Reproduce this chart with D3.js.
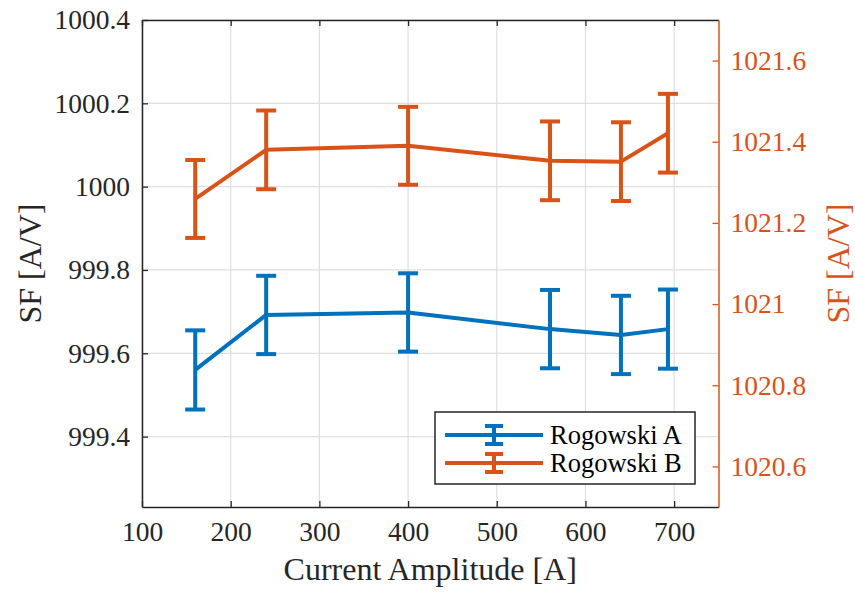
<!DOCTYPE html>
<html>
<head>
<meta charset="utf-8">
<script src="https://cdn.jsdelivr.net/npm/d3@7/dist/d3.min.js"></script>
<style>
  html, body { margin: 0; padding: 0; background: #fff; }
  svg, svg text { font-family: "Liberation Serif", "Times New Roman", serif; }
  svg { display: block; }
</style>
</head>
<body>
<svg id="chart" width="855" height="592"></svg>
<script>
// Measured scale factors of two Rogowski coils versus current amplitude
const currents = [160, 240, 400, 560, 640, 693];
const sfA = [999.560, 999.692, 999.698, 999.658, 999.644, 999.658];
const errA = [0.095, 0.094, 0.094, 0.094, 0.094, 0.095];
const sfB = [1021.259, 1021.380, 1021.390, 1021.353, 1021.351, 1021.421];
const errB = [0.096, 0.097, 0.096, 0.097, 0.097, 0.097];

const xTicks = [100, 200, 300, 400, 500, 600, 700];
const leftTicks = [999.4, 999.6, 999.8, 1000, 1000.2, 1000.4];
const rightTicks = [1020.6, 1020.8, 1021, 1021.2, 1021.4, 1021.6];
const seriesNames = ["Rogowski A", "Rogowski B"];

const blue = "#0072BD", orange = "#D95319", ink = "#262626", gridCol = "#dfdfdf";
const serif = "Liberation Serif, Times New Roman, serif";
const lw = 4;

const svg = d3.select("#chart");
const L = 142, R = 718.5, T = 20, B = 507;

const x = d3.scaleLinear().domain([100, 750]).range([L, R]);
const yL = d3.scaleLinear().domain([999.231, 1000.4]).range([B, T]);
const yR = d3.scaleLinear().domain([1020.5, 1021.7]).range([B, T]);

const fmt = d => String(+d.toFixed(1));

// grid
const grid = svg.append("g");
grid.selectAll("line.gx").data(xTicks).join("line")
  .attr("x1", d => x(d)).attr("x2", d => x(d)).attr("y1", T).attr("y2", B)
  .attr("stroke", gridCol).attr("stroke-width", 1.2);
grid.selectAll("line.gy").data(leftTicks).join("line")
  .attr("y1", d => yL(d)).attr("y2", d => yL(d)).attr("x1", L).attr("x2", R)
  .attr("stroke", gridCol).attr("stroke-width", 1.2);

// series with error bars
function drawSeries(vals, errs, yS, color) {
  const g = svg.append("g");
  const pts = currents.map((c, i) => ({ x: c, y: vals[i], e: errs[i] }));
  g.append("path").datum(pts)
    .attr("d", d3.line().x(d => x(d.x)).y(d => yS(d.y)))
    .attr("fill", "none").attr("stroke", color).attr("stroke-width", lw)
    .attr("stroke-linejoin", "round");
  const cap = 10;
  pts.forEach(p => {
    const cx = x(p.x), y0 = yS(p.y - p.e), y1 = yS(p.y + p.e);
    g.append("line").attr("x1", cx).attr("x2", cx).attr("y1", y0).attr("y2", y1)
      .attr("stroke", color).attr("stroke-width", lw);
    [y0, y1].forEach(yy => g.append("line")
      .attr("x1", cx - cap).attr("x2", cx + cap).attr("y1", yy).attr("y2", yy)
      .attr("stroke", color).attr("stroke-width", lw));
  });
}
drawSeries(sfA, errA, yL, blue);
drawSeries(sfB, errB, yR, orange);

// axes
const tickFont = 27.5;
const axB = svg.append("g").attr("transform", `translate(0,${B})`)
  .call(d3.axisBottom(x).tickValues(xTicks).tickSizeInner(-6).tickSizeOuter(0).tickPadding(14));
const axTop = svg.append("g").attr("transform", `translate(0,${T})`)
  .call(d3.axisTop(x).tickValues(xTicks).tickSizeInner(-6).tickSizeOuter(0).tickFormat(""));
const axL = svg.append("g").attr("transform", `translate(${L},0)`)
  .call(d3.axisLeft(yL).tickValues(leftTicks).tickFormat(fmt).tickSizeInner(-6).tickSizeOuter(0).tickPadding(12));
const axR = svg.append("g").attr("transform", `translate(${R},0)`)
  .call(d3.axisRight(yR).tickValues(rightTicks).tickFormat(fmt).tickSizeInner(-6).tickSizeOuter(0).tickPadding(12));

[axB, axTop, axL, axR].forEach(a => a.attr("font-family", serif).attr("font-size", tickFont));
[axB, axTop, axL].forEach(a => {
  a.select(".domain").attr("stroke", ink).attr("stroke-width", 1.5);
  a.selectAll(".tick line").attr("stroke", ink).attr("stroke-width", 1.3);
  a.selectAll(".tick text").attr("fill", ink);
});
axR.select(".domain").attr("stroke", orange).attr("stroke-width", 1.5);
axR.selectAll(".tick line").attr("stroke", orange).attr("stroke-width", 1.3);
axR.selectAll(".tick text").attr("fill", orange);

// axis titles
svg.append("text").attr("x", (L + R) / 2).attr("y", 580).attr("text-anchor", "middle")
  .attr("font-family", serif).attr("font-size", 32)
  .attr("fill", ink).text("Current Amplitude [A]");
svg.append("text").attr("transform", `translate(41,${(T + B) / 2}) rotate(-90)`)
  .attr("font-family", serif).attr("font-size", 32)
  .attr("text-anchor", "middle").attr("fill", ink).text("SF [A/V]");
svg.append("text").attr("transform", `translate(849,${(T + B) / 2}) rotate(-90)`)
  .attr("font-family", serif).attr("font-size", 32)
  .attr("text-anchor", "middle").attr("fill", orange).text("SF [A/V]");

// legend
const lg = svg.append("g").attr("transform", "translate(435,412)");
lg.append("rect").attr("width", 260).attr("height", 72)
  .attr("fill", "#fff").attr("stroke", ink).attr("stroke-width", 1.5);
[blue, orange].forEach((c, i) => {
  const cy = 23 + i * 28;
  const row = lg.append("g");
  row.append("line").attr("x1", 10).attr("x2", 108).attr("y1", cy).attr("y2", cy)
    .attr("stroke", c).attr("stroke-width", lw);
  row.append("line").attr("x1", 59).attr("x2", 59).attr("y1", cy - 9).attr("y2", cy + 9)
    .attr("stroke", c).attr("stroke-width", lw);
  [cy - 9, cy + 9].forEach(yy => row.append("line")
    .attr("x1", 50).attr("x2", 68).attr("y1", yy).attr("y2", yy)
    .attr("stroke", c).attr("stroke-width", lw));
  row.append("text").attr("x", 115).attr("y", cy + 9).attr("fill", "#000")
    .attr("font-family", serif).attr("font-size", 26.5).text(seriesNames[i]);
});
</script>
</body>
</html>
